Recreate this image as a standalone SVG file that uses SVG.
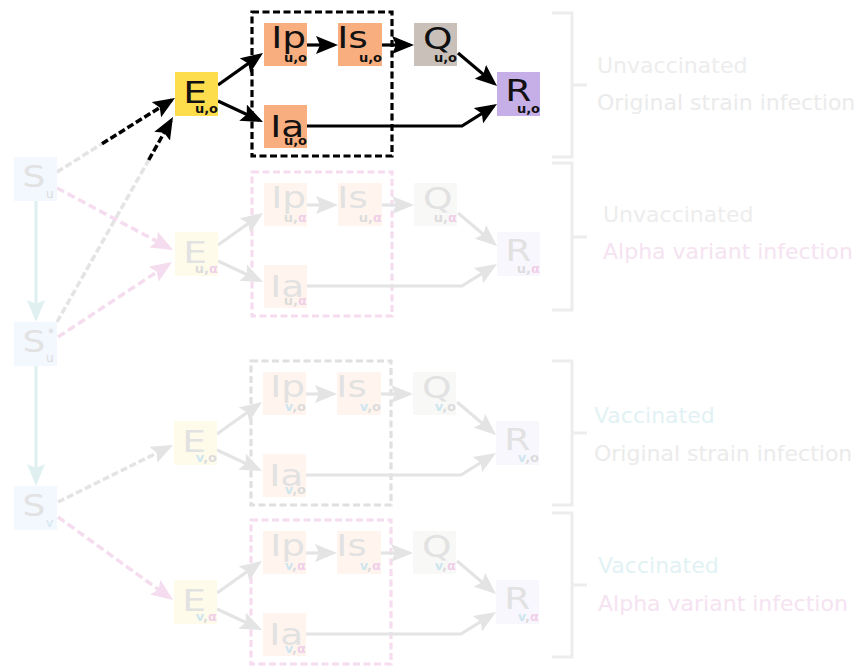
<svg xmlns="http://www.w3.org/2000/svg" width="864" height="668" viewBox="0 0 864 668">
<style>
.lt{font-family:"DejaVu Sans",Verdana,sans-serif;font-size:30px}
.sub{font-family:"DejaVu Sans",sans-serif;font-size:13px;font-weight:bold;text-anchor:end}
.ssub{font-family:"DejaVu Sans",sans-serif;font-size:12px}
.lbl{font-family:"DejaVu Sans",sans-serif;font-size:22px}
.k{fill:#111}
.f{fill:#e2e2e2}
.g{fill:#dcdcdc}
.pk{fill:#f0cfe8}
.tl{fill:#cfe6ee}
.ln{fill:none;stroke-width:3.2}
.blk{stroke:#000}
.gry{stroke:#e4e4e4}
.pnk{stroke:#f5dcef}
.tel{stroke:#e0f0f1}
.dk{fill:none;stroke:#000;stroke-width:3.5;stroke-dasharray:7 3}
.dg{fill:none;stroke:#e4e4e4;stroke-width:3.5;stroke-dasharray:7 3}
.dp{fill:none;stroke:#f5dcef;stroke-width:3.5;stroke-dasharray:8 4}
.box{fill:none;stroke-width:3.2;stroke-dasharray:7 3.5}
.brk{fill:none;stroke:#ededed;stroke-width:3}
</style>
<defs>
<marker id="mk" viewBox="0 0 22 18" refX="18" refY="9" markerWidth="22" markerHeight="18" markerUnits="userSpaceOnUse" orient="auto"><path d="M0,0 L22,9 L0,18 L4,9 z" fill="#000"/></marker>
<marker id="mg" viewBox="0 0 22 18" refX="18" refY="9" markerWidth="22" markerHeight="18" markerUnits="userSpaceOnUse" orient="auto"><path d="M0,0 L22,9 L0,18 L4,9 z" fill="#e4e4e4"/></marker>
<marker id="mp" viewBox="0 0 22 18" refX="18" refY="9" markerWidth="22" markerHeight="18" markerUnits="userSpaceOnUse" orient="auto"><path d="M0,0 L22,9 L0,18 L4,9 z" fill="#f5dcef"/></marker>
<marker id="mt" viewBox="0 0 22 18" refX="18" refY="9" markerWidth="22" markerHeight="18" markerUnits="userSpaceOnUse" orient="auto"><path d="M0,0 L22,9 L0,18 L4,9 z" fill="#e0f0f1"/></marker>
</defs>

<g id="labels">
<path class="brk" d="M552,13 H572 V157 H552 M572,85 H587"/>
<path class="brk" d="M552,163 H572 V310 H552 M572,237 H587"/>
<path class="brk" d="M552,361 H572 V505 H552 M572,433 H587"/>
<path class="brk" d="M552,513 H572 V657 H552 M572,585 H587"/>
<text class="lbl" x="597" y="73" fill="#ededed">Unvaccinated</text>
<text class="lbl" x="597" y="110" fill="#ebebeb">Original strain infection</text>
<text class="lbl" x="603" y="222" fill="#ededed">Unvaccinated</text>
<text class="lbl" x="603" y="259" fill="#f5e3f1">Alpha variant infection</text>
<text class="lbl" x="594" y="423" fill="#e2f2f4">Vaccinated</text>
<text class="lbl" x="594" y="461" fill="#ebebeb">Original strain infection</text>
<text class="lbl" x="598" y="573" fill="#e2f2f4">Vaccinated</text>
<text class="lbl" x="598" y="611" fill="#f5e3f1">Alpha variant infection</text>
</g>

<g id="groups">
<rect class="box" x="252" y="12" width="140" height="144" stroke="#000"/>
<rect class="box" x="252" y="172" width="140" height="144" stroke="#f5dcef"/>
<rect class="box" x="251" y="361" width="140" height="144" stroke="#e0e0e0"/>
<rect class="box" x="251" y="520" width="140" height="144" stroke="#f5dcef"/>
</g>

<g id="connectors">
<path class="ln tel" d="M36,201 V318" marker-end="url(#mt)"/>
<path class="ln tel" d="M36,366 V482" marker-end="url(#mt)"/>
<path class="dg" d="M57,172 L102,143.8"/>
<path class="dk" d="M102,143.8 L171.6,100.1" marker-end="url(#mk)"/>
<path class="dg" d="M57,322 L148.7,160"/>
<path class="dk" d="M148.7,160 L171,120.5" marker-end="url(#mk)"/>
<path class="dp" d="M57,188 L169.5,248.1" marker-end="url(#mp)"/>
<path class="dp" d="M58,337 L168.7,264.2" marker-end="url(#mp)"/>
<path class="dg" d="M58,502 L169.4,446.8" marker-end="url(#mg)"/>
<path class="dp" d="M58,517 L169.8,597.7" marker-end="url(#mp)"/>
<g class="ln blk" marker-end="url(#mk)">
<path d="M218,85 L259.7,55.3"/>
<path d="M218,101 L259.4,120.3"/>
<path d="M307,45 L334,45"/>
<path d="M382,45 L410,45"/>
<path d="M458,53 L494,83.4"/>
<path d="M307,126 L462,126 L493.6,106.1"/>
</g>
<g class="ln gry" marker-end="url(#mg)" transform="translate(0,160)">
<path d="M218,85 L259.7,55.3"/>
<path d="M218,101 L259.4,120.3"/>
<path d="M307,45 L334,45"/>
<path d="M382,45 L410,45"/>
<path d="M458,53 L494,83.4"/>
<path d="M307,126 L462,126 L493.6,106.1"/>
</g>
<g class="ln gry" marker-end="url(#mg)" transform="translate(-1,349)">
<path d="M218,85 L259.7,55.3"/>
<path d="M218,101 L259.4,120.3"/>
<path d="M307,45 L334,45"/>
<path d="M382,45 L410,45"/>
<path d="M458,53 L494,83.4"/>
<path d="M307,126 L462,126 L493.6,106.1"/>
</g>
<g class="ln gry" marker-end="url(#mg)" transform="translate(-1,508)">
<path d="M218,85 L259.7,55.3"/>
<path d="M218,101 L259.4,120.3"/>
<path d="M307,45 L334,45"/>
<path d="M382,45 L410,45"/>
<path d="M458,53 L494,83.4"/>
<path d="M307,126 L462,126 L493.6,106.1"/>
</g>
</g>

<g id="S_u">
<rect x="14" y="157" width="43" height="44" fill="#f3f7fe"/>
<text class="lt f" transform="translate(22.5,187) scale(1.2 1)">S</text>
<text class="ssub g" x="46" y="198">u</text>
</g>
<g id="S_u_star">
<rect x="14" y="322" width="43" height="44" fill="#f3f7fe"/>
<text class="lt f" transform="translate(22.5,352) scale(1.2 1)">S</text>
<text class="ssub g" x="48" y="337" font-size="15">*</text>
<text class="ssub g" x="46" y="362">u</text>
</g>
<g id="S_v">
<rect x="14" y="486" width="43" height="44" fill="#f3f7fe"/>
<text class="lt f" transform="translate(22.5,516) scale(1.2 1)">S</text>
<text class="ssub tl" x="46" y="527">v</text>
</g>

<g id="E_uo">
<rect x="175" y="72" width="43" height="44" fill="#fedd4c"/>
<text class="lt k" transform="translate(183.3,103) scale(1.25 1)">E</text>
<text class="sub k" x="218" y="113">u,o</text>
</g>
<g id="Ip_uo">
<rect x="264" y="23" width="43" height="43" fill="#f9ae7f"/>
<text class="lt k" transform="translate(271.3,48) scale(1.25 1)">Ip</text>
<text class="sub k" x="307" y="62">u,o</text>
</g>
<g id="Is_uo">
<rect x="338" y="23" width="44" height="43" fill="#f9ae7f"/>
<text class="lt k" transform="translate(337.3,48) scale(1.25 1)">Is</text>
<text class="sub k" x="382" y="62">u,o</text>
</g>
<g id="Q_uo">
<rect x="414" y="23" width="43" height="43" fill="#c9c0b9"/>
<text class="lt k" transform="translate(422.9,49) scale(1.25 1)">Q</text>
<text class="sub k" x="457" y="62">u,o</text>
</g>
<g id="R_uo">
<rect x="497" y="72" width="43" height="44" fill="#c6aee7"/>
<text class="lt k" transform="translate(505.3,101) scale(1.25 1)">R</text>
<text class="sub k" x="540" y="113">u,o</text>
</g>
<g id="Ia_uo">
<rect x="264" y="105" width="43" height="43" fill="#f9ae7f"/>
<text class="lt k" transform="translate(270.3,137) scale(1.25 1)">Ia</text>
<text class="sub k" x="307" y="145">u,o</text>
</g>

<g id="E_ua">
<rect x="175" y="232" width="43" height="44" fill="#fffbeb"/>
<text class="lt f" transform="translate(183.3,263) scale(1.25 1)">E</text>
<text class="sub" x="218" y="273"><tspan class="g">u,</tspan><tspan class="pk">α</tspan></text>
</g>
<g id="Ip_ua">
<rect x="264" y="183" width="43" height="43" fill="#fff5ee"/>
<text class="lt f" transform="translate(271.3,208) scale(1.25 1)">Ip</text>
<text class="sub" x="307" y="222"><tspan class="g">u,</tspan><tspan class="pk">α</tspan></text>
</g>
<g id="Is_ua">
<rect x="338" y="183" width="44" height="43" fill="#fff5ee"/>
<text class="lt f" transform="translate(337.3,208) scale(1.25 1)">Is</text>
<text class="sub" x="382" y="222"><tspan class="g">u,</tspan><tspan class="pk">α</tspan></text>
</g>
<g id="Q_ua">
<rect x="414" y="183" width="43" height="43" fill="#f8f8f7"/>
<text class="lt f" transform="translate(422.9,209) scale(1.25 1)">Q</text>
<text class="sub" x="457" y="222"><tspan class="g">u,</tspan><tspan class="pk">α</tspan></text>
</g>
<g id="R_ua">
<rect x="497" y="232" width="43" height="44" fill="#f9f7fe"/>
<text class="lt f" transform="translate(505.3,261) scale(1.25 1)">R</text>
<text class="sub" x="540" y="273"><tspan class="g">u,</tspan><tspan class="pk">α</tspan></text>
</g>
<g id="Ia_ua">
<rect x="264" y="265" width="43" height="43" fill="#fff5ee"/>
<text class="lt f" transform="translate(270.3,297) scale(1.25 1)">Ia</text>
<text class="sub" x="307" y="305"><tspan class="g">u,</tspan><tspan class="pk">α</tspan></text>
</g>

<g id="E_vo">
<rect x="174" y="421" width="43" height="44" fill="#fffbeb"/>
<text class="lt f" transform="translate(182.3,452) scale(1.25 1)">E</text>
<text class="sub" x="217" y="462"><tspan class="tl">v</tspan><tspan class="g">,o</tspan></text>
</g>
<g id="Ip_vo">
<rect x="263" y="372" width="43" height="43" fill="#fff5ee"/>
<text class="lt f" transform="translate(270.3,397) scale(1.25 1)">Ip</text>
<text class="sub" x="306" y="411"><tspan class="tl">v</tspan><tspan class="g">,o</tspan></text>
</g>
<g id="Is_vo">
<rect x="337" y="372" width="44" height="43" fill="#fff5ee"/>
<text class="lt f" transform="translate(336.3,397) scale(1.25 1)">Is</text>
<text class="sub" x="381" y="411"><tspan class="tl">v</tspan><tspan class="g">,o</tspan></text>
</g>
<g id="Q_vo">
<rect x="413" y="372" width="43" height="43" fill="#f8f8f7"/>
<text class="lt f" transform="translate(421.9,398) scale(1.25 1)">Q</text>
<text class="sub" x="456" y="411"><tspan class="tl">v</tspan><tspan class="g">,o</tspan></text>
</g>
<g id="R_vo">
<rect x="496" y="421" width="43" height="44" fill="#f9f7fe"/>
<text class="lt f" transform="translate(504.3,450) scale(1.25 1)">R</text>
<text class="sub" x="539" y="462"><tspan class="tl">v</tspan><tspan class="g">,o</tspan></text>
</g>
<g id="Ia_vo">
<rect x="263" y="454" width="43" height="43" fill="#fff5ee"/>
<text class="lt f" transform="translate(269.3,486) scale(1.25 1)">Ia</text>
<text class="sub" x="306" y="494"><tspan class="tl">v</tspan><tspan class="g">,o</tspan></text>
</g>

<g id="E_va">
<rect x="174" y="580" width="43" height="44" fill="#fffbeb"/>
<text class="lt f" transform="translate(182.3,611) scale(1.25 1)">E</text>
<text class="sub" x="217" y="621"><tspan class="tl">v</tspan><tspan class="g">,</tspan><tspan class="pk">α</tspan></text>
</g>
<g id="Ip_va">
<rect x="263" y="531" width="43" height="43" fill="#fff5ee"/>
<text class="lt f" transform="translate(270.3,556) scale(1.25 1)">Ip</text>
<text class="sub" x="306" y="570"><tspan class="tl">v</tspan><tspan class="g">,</tspan><tspan class="pk">α</tspan></text>
</g>
<g id="Is_va">
<rect x="337" y="531" width="44" height="43" fill="#fff5ee"/>
<text class="lt f" transform="translate(336.3,556) scale(1.25 1)">Is</text>
<text class="sub" x="381" y="570"><tspan class="tl">v</tspan><tspan class="g">,</tspan><tspan class="pk">α</tspan></text>
</g>
<g id="Q_va">
<rect x="413" y="531" width="43" height="43" fill="#f8f8f7"/>
<text class="lt f" transform="translate(421.9,557) scale(1.25 1)">Q</text>
<text class="sub" x="456" y="570"><tspan class="tl">v</tspan><tspan class="g">,</tspan><tspan class="pk">α</tspan></text>
</g>
<g id="R_va">
<rect x="496" y="580" width="43" height="44" fill="#f9f7fe"/>
<text class="lt f" transform="translate(504.3,609) scale(1.25 1)">R</text>
<text class="sub" x="539" y="621"><tspan class="tl">v</tspan><tspan class="g">,</tspan><tspan class="pk">α</tspan></text>
</g>
<g id="Ia_va">
<rect x="263" y="613" width="43" height="43" fill="#fff5ee"/>
<text class="lt f" transform="translate(269.3,645) scale(1.25 1)">Ia</text>
<text class="sub" x="306" y="653"><tspan class="tl">v</tspan><tspan class="g">,</tspan><tspan class="pk">α</tspan></text>
</g>
</svg>
